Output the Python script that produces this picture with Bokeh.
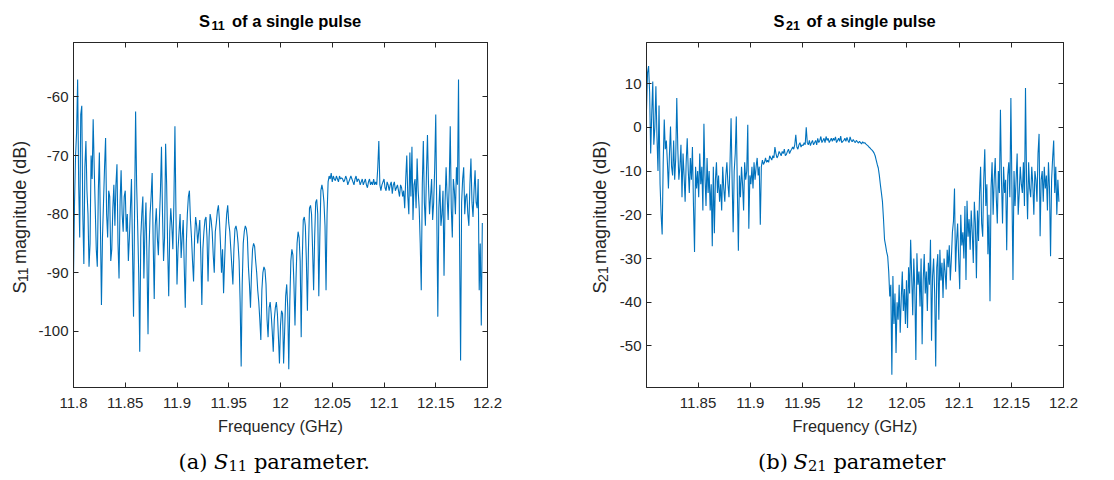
import numpy as np
from bokeh.plotting import figure
from bokeh.models import Range1d, FixedTicker, LinearAxis
from bokeh.core.properties import value
from bokeh.layouts import row, column
from bokeh.embed import file_html
from bokeh.resources import INLINE

# ---------------- data ----------------
s11_f_start = 11.800      # GHz
s11_f_step = 0.001        # GHz
s11_db = [
    -90.5, -78, -70, -66, -57, -75, -84, -63, -61.5, -80,
    -88.5, -72, -67.5, -76, -80, -89, -85, -70, -74, -63.8,
    -72, -79, -86, -89, -76, -69.5, -82, -95.5, -84, -78,
    -72, -67, -80, -84, -76, -77, -88, -86, -79, -75,
    -82, -75, -71.5, -85, -91, -78, -72.5, -80, -83, -77,
    -76, -83, -80, -88, -84, -79, -74, -86, -97.5, -80,
    -62.5, -75, -82, -90, -103.5, -84, -80, -77, -91, -83,
    -78, -88, -100.5, -86, -80, -77, -73, -85, -94.5, -82,
    -79, -84, -87, -81, -76, -68.5, -80, -88, -84, -68,
    -75, -86, -94, -83, -79, -82, -86, -78, -65, -80,
    -92, -86, -83, -80, -87.5, -84, -81, -89, -96, -85,
    -80, -77, -76, -81, -84, -88, -91.5, -84, -80.5, -82,
    -85, -83, -81, -87, -95.5, -86, -83, -81, -80.5, -84,
    -91.5, -84, -80, -81, -83, -87, -90, -83, -81.5, -79.5,
    -78.5, -81, -85, -90, -86, -93.5, -88, -83, -80, -78.5,
    -81.5, -83, -86, -89, -92, -86, -82.5, -82, -83, -85,
    -88, -95, -106, -92, -85, -83, -82, -82.5, -84, -89,
    -92, -96, -90, -86, -85, -85.5, -88, -90, -93, -95,
    -98, -101.5, -93, -90, -89, -89.5, -92, -98, -101, -96,
    -95, -97, -100, -103.5, -98, -96, -95, -97, -101, -105.5,
    -99, -96.5, -97, -105.5, -100, -94, -92, -96, -106.5, -95,
    -88, -86, -87, -92, -99, -91, -85, -83, -84, -88,
    -101, -88, -81, -80.5, -82, -88, -96.5, -86, -79, -78.5,
    -80, -86, -93, -84, -78, -77.5, -80, -94, -84, -76,
    -75, -76, -78, -82, -93, -80, -74.5, -73.5, -74, -73,
    -74.5, -73.5, -74, -74.3, -73.5, -74, -74.5, -73.5, -74, -73.8,
    -74, -74.5, -74.2, -73.5, -74, -75, -74.5, -74, -73.5, -74,
    -74.5, -75, -74, -73.5, -74.5, -74, -74.2, -75, -74.5, -74,
    -75, -74.5, -74, -75, -75.5, -74.5, -74, -75, -74.5, -75,
    -74, -75, -74.5, -75, -72, -67.5, -75, -76, -75, -74.5,
    -74, -75.5, -76, -74.5, -75, -76, -75, -74.5, -76.5, -75,
    -74.5, -76, -75.5, -75, -76, -77, -75, -75.5, -77, -76,
    -79, -74, -70, -77, -80, -69.5, -77, -68.5, -81, -75,
    -74, -79, -70.5, -76, -79, -85, -93, -75, -67.5, -78,
    -82, -73, -66.5, -75, -80, -77, -74, -81, -78, -72,
    -63, -80, -97.5, -79, -75, -82, -80, -76, -90.5, -78,
    -72, -77, -81, -75, -65, -79, -84, -74, -76, -80,
    -72, -75, -57, -85, -105, -78, -74, -72, -80, -77,
    -76.5, -80, -82, -75, -70.5, -78, -80.5, -76, -72.5, -78,
    -79, -74, -93, -85, -99, -81.5,
]

s21_f_start = 11.8006     # GHz
s21_f_step = 0.001        # GHz
s21_db = [
    4, 12.5, 14, 8, -6, 3, 10.5, -4, 0, 9.4,
    -2, -10, 5, -13, -20, -24.5, -8, 1.8, -5, -3,
    -8, -14, -6, 0.2, -9, -11, -3, -12, -7, 6.7,
    -5, -12, -9, -4, -16, -6, -11, -17, -8, -2.5,
    -10, -15, -7, -12, -4.5, -18, -28.5, -9, -14, -10,
    -16, -6, -13, -9, -19, 0.8, -11, -18, -7, -15,
    -10, -19, -13, -27.2, -9, -24.2, -12, -8, -15, -11,
    -17, -13, -19, -9, -14, -17, -11, -8, -13, -16,
    -8, 2.1, -12, -24, -10, -6, 2.5, -14, -28.2, -11,
    -16, -9, -13, -19, -8, -12, -10, 0.6, -23.2, -11,
    -13, -9, -14, -8, -12, -9, -7, -11, -9, -22.3,
    -9, -7.5, -8.5, -8, -7, -8, -7.5, -8, -6.5, -7,
    -7.5, -6.5, -7, -4.5, -6, -7, -6.5, -5.5, -6, -6.5,
    -5.5, -6, -5, -6.5, -6.2, -5.5, -5, -6, -5.4, -5,
    -4.5, -5, -4, -1.7, -4.5, -5, -4, -3.5, -4.5, -4,
    -4.2, -3.5, -4, 0, -3.5, -4, -3, -4.2, -3.5, -3,
    -4, -3.5, -3, -4, -2.5, -3.5, -3, -2.1, -3.5, -3,
    -2.5, -3.5, -2.1, -3, -2.5, -3.5, -3, -2.5, -3.2, -2.5,
    -3, -2.2, -3.5, -3, -2.5, -3.2, -2, -3.5, -3.2, -3,
    -2.5, -3.2, -2.3, -3, -3.5, -2.2, -3, -3.3, -2.8, -3.2,
    -3.5, -3, -3.3, -3.6, -3.2, -3.5, -3.8, -3.3, -3.6, -3.5,
    -3.8, -4, -4.2, -4.5, -4.7, -5, -5.2, -5.5, -5.9, -6.5,
    -7.5, -8.5, -9.3, -11, -13.1, -15, -17, -21, -25.7, -27,
    -28.5, -29.5, -33, -38.7, -36, -56.6, -34, -45, -38, -51.6,
    -40, -44, -36, -47, -39, -33, -42, -37, -45, -35,
    -45.9, -32, -38, -25.7, -34, -43, -30, -37, -53.2, -28.8,
    -36, -33, -41, -30, -49.6, -35, -29, -38, -33, -42,
    -31, -36, -25.7, -48.8, -34, -30, -38, -54.7, -32, -29,
    -44, -28, -35, -31, -39, -30, -33, -37.1, -28, -32,
    -27, -35, -30, -24, -21.5, -14, -33, -26, -22, -30,
    -37, -20, -27, -24, -30, -18, -34.9, -16.8, -25, -21,
    -28, -19, -24, -31, -17, -22, -34.5, -19, -26, -15,
    -9, -22, -25, -12, -5, -18, -13, -29, -20, -39.8,
    -14, -8, -20, -12, -7, -16, -22, -10, -15, 4,
    -12, -22, -9, -15, -12, -28.1, -11, -8, -16, 6.7,
    -14, -34.9, -10, -18, -12, -6, -20, -15, -9, -13,
    -15, -8, -18, 9, -12, -21, -8, -14, -16, -9,
    -13, -20, -10, -12, -17, -6, -1.5, -24.9, -12, -10,
    -17, -9, -14, -11, -19, -8, -14, -29.5, -12, -7,
    -3, -15, -9, -20, -12, -17,
]

x_ticks = [11.8, 11.85, 11.9, 11.95, 12.0, 12.05, 12.1, 12.15, 12.2]
x_tick_labels = ["11.8", "11.85", "11.9", "11.95", "12", "12.05", "12.1", "12.15", "12.2"]
s11_y_ticks = [-100, -90, -80, -70, -60]
s11_y_tick_labels = ["-100", "-90", "-80", "-70", "-60"]
s21_y_ticks = [-50, -40, -30, -20, -10, 0, 10]
s21_y_tick_labels = ["-50", "-40", "-30", "-20", "-10", "0", "10"]

titles = [("S", "11", "of a single pulse"), ("S", "21", "of a single pulse")]
ylabels = [("S", "11", "magnitude (dB)"), ("S", "21", "magnitude (dB)")]
x_label = "Frequency (GHz)"
captions = [("(a)", "S", "11", "parameter."), ("(b)", "S", "21", "parameter")]

s11_freq = s11_f_start + s11_f_step * np.arange(len(s11_db))
s21_freq = s21_f_start + s21_f_step * np.arange(len(s21_db))

AX = "#262626"
LINE = "#0072BD"
SANS = "Liberation Sans"
SERIF = "DejaVu Serif"
COLW = 557          # width of each half
TOP_H = 41          # title strip
MAIN_H = 374        # plot strip (frame 345 px tall)
BOT_H = 65          # x label + caption strip


def text_fig(w, h):
    f = figure(width=w, height=h, x_range=Range1d(0, w), y_range=Range1d(0, h),
               toolbar_location=None, output_backend="svg",
               x_axis_location=None, y_axis_location=None, min_border=0)
    f.grid.visible = False
    f.outline_line_color = None
    f.background_fill_color = "white"
    f.border_fill_color = "white"
    return f


def txt(f, s, x, y, size, font=SANS, style="normal", angle=0.0,
        color="#000000", align="left"):
    f.text(x=[x], y=[y], text=[s], text_font=value(font),
           text_font_size=value(f"{size}px"), text_font_style=value(style),
           text_color=color, angle=angle, text_align=value(align),
           text_baseline=value("alphabetic"))


def make(freq, db, xr, yr, yt, ytl, ylab_w, ylab_x, frame_l, frame_r, idx):
    main_w = COLW - ylab_w
    p = figure(width=main_w, height=MAIN_H, x_range=Range1d(*xr), y_range=Range1d(*yr),
               toolbar_location=None, output_backend="svg",
               x_axis_location=None, y_axis_location=None,
               min_border_left=frame_l - ylab_w, min_border_right=COLW - frame_r,
               min_border_top=1, min_border_bottom=28)
    p.grid.visible = False
    p.background_fill_color = "white"
    p.border_fill_color = "white"
    p.outline_line_color = AX
    p.outline_line_width = 1

    p.line(freq, db, line_color=LINE, line_width=1.1)

    xo = dict(zip(x_ticks, x_tick_labels))
    yo = dict(zip(yt, ytl))
    for place, ticks, ov, show in (("below", x_ticks, xo, True), ("above", x_ticks, xo, False),
                                   ("left", yt, yo, True), ("right", yt, yo, False)):
        ax = LinearAxis(ticker=FixedTicker(ticks=ticks), major_label_overrides=ov)
        ax.minor_tick_line_color = None
        ax.major_tick_in = 5
        ax.major_tick_out = 0
        ax.axis_line_color = AX
        ax.major_tick_line_color = AX
        ax.major_label_text_color = AX if show else None
        ax.major_label_text_font = SANS
        ax.major_label_text_font_size = "15px"
        ax.major_label_standoff = 10 if place == "below" else 5
        if not show:
            ax.major_label_standoff = 0
        p.add_layout(ax, place)

    cx = (frame_l + frame_r) / 2.0

    # title strip
    tf = text_fig(COLW, TOP_H)
    t0, t1, t2 = titles[idx]
    tx = cx - 81.5
    txt(tf, t0, tx, TOP_H - 20, 16.5, style="bold")
    txt(tf, t1, tx + 12.5, TOP_H - 25, 12.5, style="bold")
    txt(tf, t2, tx + 33, TOP_H - 20, 16.5, style="bold")

    # y label strip (rotated, reads bottom to top)
    yf = text_fig(ylab_w, MAIN_H)
    base = TOP_H + MAIN_H
    y0l, y1l, y2l = ylabels[idx]
    bx = ylab_x
    s0 = 313
    txt(yf, y0l, bx, base - s0, 18, angle=np.pi / 2, color=AX)
    txt(yf, y1l, bx + 3.5, base - (s0 - 12.5), 14, angle=np.pi / 2, color=AX)
    txt(yf, y2l, bx, base - (s0 - 32), 18, angle=np.pi / 2, color=AX)

    # x label + caption strip
    bf = text_fig(COLW, BOT_H)
    txt(bf, x_label, cx, 480 - 425, 16.3, color=AX, align="center")
    c0, c1, c2, c3 = captions[idx]
    sx = cx - 102 if idx == 0 else cx - 97
    txt(bf, c0, sx, 480 - 461, 21, font=SERIF)
    txt(bf, c1, sx + 35.5, 480 - 461, 21, font=SERIF, style="italic")
    txt(bf, c2, sx + 50, 480 - 465, 14.7, font=SERIF)
    txt(bf, c3, sx + 75.4, 480 - 461, 21, font=SERIF)

    return column(tf, row(yf, p), bf)


left = make(s11_freq, s11_db, (11.8, 12.2), (-109.6, -50.7), s11_y_ticks, s11_y_tick_labels,
            34, 19, 73, 487, 0)
right = make(s21_freq, s21_db, (11.8006, 12.2), (-59.5, 19.4), s21_y_ticks, s21_y_tick_labels,
             58, 42, 89, 506, 1)

layout = row(left, right)
open("out.html", "w").write(file_html(layout, INLINE))
